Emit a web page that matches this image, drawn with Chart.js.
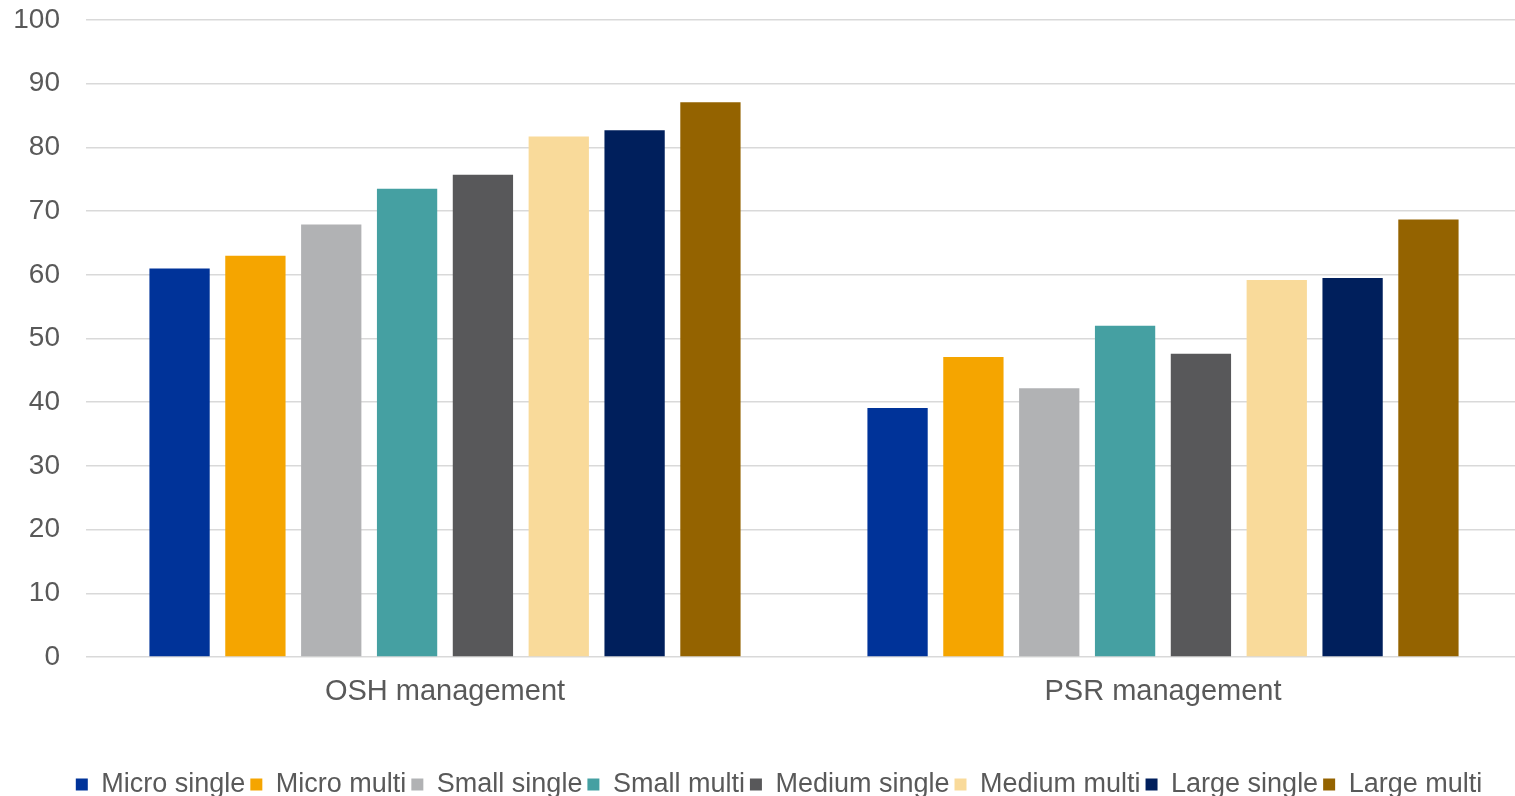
<!DOCTYPE html>
<html>
<head>
<meta charset="utf-8">
<script src="https://cdn.jsdelivr.net/npm/chart.js@4"></script>
<style>
  html, body { margin: 0; padding: 0; background: #fff; overflow: hidden; }
  #wrap { width: 1522px; height: 796px; }
</style>
</head>
<body>
<div id="wrap"><canvas id="chart"></canvas></div>
<script>
const categories = ['OSH management', 'PSR management'];

const seriesNames = [
  'Micro single', 'Micro multi', 'Small single', 'Small multi',
  'Medium single', 'Medium multi', 'Large single', 'Large multi'
];

const microSingle = [61, 39.1];
const microMulti = [63, 47.1];
const smallSingle = [67.9, 42.2];
const smallMulti = [73.5, 52];
const mediumSingle = [75.7, 47.6];
const mediumMulti = [81.7, 59.2];
const largeSingle = [82.7, 59.5];
const largeMulti = [87.1, 68.7];

const seriesValues = [
  microSingle, microMulti, smallSingle, smallMulti,
  mediumSingle, mediumMulti, largeSingle, largeMulti
];

const colors = [
  '#003399', '#F5A500', '#B1B2B4', '#45A0A2',
  '#58585A', '#F9DA9A', '#001F5C', '#946300'
];

const textColor = '#595959';
const gridColor = '#d9d9d9';
const fontFamily = 'Liberation Sans, Arial, sans-serif';

const datasets = seriesNames.map((name, i) => ({
  label: name,
  data: seriesValues[i],
  backgroundColor: colors[i],
  borderWidth: 0,
  categoryPercentage: 0.845,
  barPercentage: 0.795
}));

// nudge the legend a bit right, like the original
const shiftLegend = {
  id: 'shiftLegend',
  afterLayout(chart) {
    chart.legend.left += 18;
    chart.legend.right += 18;
  }
};

const ctx = document.getElementById('chart').getContext('2d');
new Chart(ctx, {
  type: 'bar',
  data: { labels: categories, datasets: datasets },
  plugins: [shiftLegend],
  options: {
    responsive: true,
    maintainAspectRatio: false,
    animation: false,
    layout: { padding: { top: 20, right: 0, bottom: -12, left: 0 } },
    plugins: {
      tooltip: { enabled: false },
      legend: {
        position: 'bottom',
        labels: {
          color: textColor,
          font: { family: fontFamily, size: 27 },
          boxWidth: 12,
          boxHeight: 12,
          padding: 5
        }
      }
    },
    scales: {
      x: {
        grid: { display: false, drawTicks: false },
        border: { display: false },
        ticks: {
          color: textColor,
          font: { family: fontFamily, size: 29 },
          padding: 18
        },
        afterFit: (scale) => { scale.height = 109; }
      },
      y: {
        min: 0,
        max: 100,
        grid: {
          color: gridColor,
          lineWidth: 1.5,
          drawTicks: true,
          tickLength: 26,
          tickColor: 'rgba(0,0,0,0)'
        },
        border: { display: false },
        ticks: {
          stepSize: 10,
          color: textColor,
          font: { family: fontFamily, size: 28 },
          padding: 0
        },
        afterFit: (scale) => { scale.width = 86; }
      }
    }
  }
});
</script>
</body>
</html>
